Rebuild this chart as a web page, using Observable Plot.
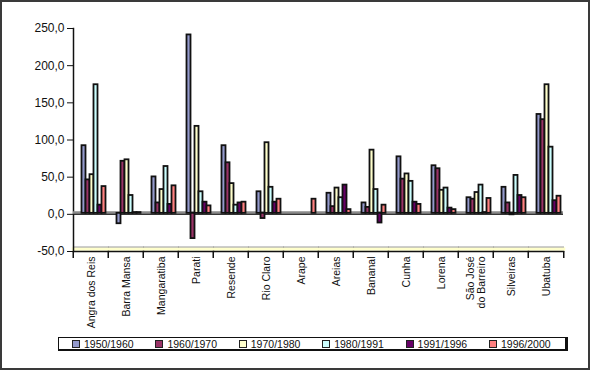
<!DOCTYPE html>
<html>
<head>
<meta charset="utf-8">
<script src="https://cdn.jsdelivr.net/npm/d3@7"></script>
<script src="https://cdn.jsdelivr.net/npm/@observablehq/plot@0.6"></script>
<style>
  body { margin: 0; background: #fff; font-family: "Liberation Sans", Arial, sans-serif; }
  #wrap { position: relative; width: 590px; height: 370px; overflow: hidden; }
  #chart { position: absolute; left: 0; top: 0; }
  #border { position: absolute; left: 0; top: 0; width: 590px; height: 370px; box-sizing: border-box;
            border: 2px solid #3a3a3a; pointer-events: none; }
  #legend { position: absolute; left: 58px; top: 337px; width: 510px; height: 14px; box-sizing: border-box;
            border: 1.5px solid #111; border-right-width: 3px; border-bottom-width: 2.5px;
            display: flex; align-items: center; font-size: 10.5px; color: #111; }
  #legend .item { width: 83.4px; display: flex; align-items: center; padding-left: 13px; box-sizing: border-box; white-space: nowrap; }
  #legend .sw { width: 6px; height: 6px; border: 1px solid #222; margin-right: 4px; flex: none; }
</style>
</head>
<body>
<div id="wrap">
  <div id="chart"></div>
  <div id="legend"></div>
  <div id="border"></div>
</div>
<script>
const categories = ["Angra dos Reis", "Barra Mansa", "Mangaratiba", "Parati", "Resende", "Rio Claro", "Arape",
  "Areias", "Bananal", "Cunha", "Lorena", "São José do Barreiro", "Silveiras", "Ubatuba"];
const series = ["1950/1960", "1960/1970", "1970/1980", "1980/1991", "1991/1996", "1996/2000"];
const colors = ["#9399cc", "#993366", "#ffffcc", "#ccffff", "#660066", "#ff8080"];

const v1950_1960 = [91, -14, 49, 240, 91, 29, null, 27, 14, 76, 64, 21, 35, 133];
const v1960_1970 = [45, 70, 14, -34, 68, -7, null, 9, 8, 46, 60, 19, 14, 126];
const v1970_1980 = [52, 72, 32, 117, 40, 95, null, 34, 85, 53, 31, 28, -2, 173];
const v1980_1991 = [173, 24, 63, 29, 11, 35, null, 21, 32, 43, 34, 38, 51, 89];
const v1991_1996 = [11, 1, 12, 15, 14, 15, null, 38, -13, 15, 7, 1, 24, 17];
const v1996_2000 = [36, 1, 37, 10, 15, 19, 19, 5, 11, 12, 5, 20, 21, 23];
const yTicks = [-50, 0, 50, 100, 150, 200, 250];

const seriesValues = [v1950_1960, v1960_1970, v1970_1980, v1980_1991, v1991_1996, v1996_2000];
const data = categories.flatMap((c, i) =>
  series.map((s, j) => ({category: c, series: s, value: seriesValues[j][i]}))
).filter(d => d.value !== null);

const fmt = d => d.toFixed(1).replace(".", ",");
const labelFmt = d => d === "São José do Barreiro" ? "São José\ndo Barreiro" : d;

const chart = Plot.plot({
  width: 590,
  height: 335,
  marginLeft: 69,
  marginRight: 24,
  marginTop: 28,
  marginBottom: 84,
  style: {fontFamily: "'Liberation Sans', Arial, sans-serif", background: "transparent", color: "#111"},
  fx: {domain: categories, padding: 0, label: null, axis: null},
  x: {domain: series, paddingInner: 0, paddingOuter: 0.62, axis: null},
  y: {domain: [-50, 250], label: null},
  color: {domain: series, range: colors},
  marks: [
    Plot.frame({anchor: "bottom", stroke: "#ffffcc", strokeWidth: 3.5, dy: -2.5}),
    Plot.frame({anchor: "bottom", stroke: "#9a9a9a", strokeWidth: 1, dy: -4.5}),
    Plot.frame({anchor: "bottom", stroke: "#111", strokeWidth: 1.5}),
    Plot.frame({anchor: "left", stroke: "#111", strokeWidth: 1.5, facetAnchor: "left"}),
    Plot.ruleY([0], {stroke: "#8a8a8a", strokeWidth: 3, dy: -1.5}),
    Plot.ruleY([0], {stroke: "#111", strokeWidth: 1}),
    Plot.barY(data, {fx: "category", x: "series", y: "value", fill: "series",
      stroke: "#111", strokeWidth: 1.8, dx: 2.5, dy: -1}),
    Plot.axisY({ticks: yTicks, tickFormat: fmt, tickSize: 6, tickPadding: 3, fontSize: 12, stroke: "#111"}),
    Plot.axisFx({anchor: "bottom", tickSize: 7, tickFormat: () => "", dx: -17.75, stroke: "#111", strokeWidth: 1.5}),
    Plot.axisFx({anchor: "bottom", ticks: ["Ubatuba"], tickSize: 7, tickFormat: () => "", dx: 17.75, stroke: "#111", strokeWidth: 1.5}),
    Plot.axisFx({anchor: "bottom", tickSize: 0, tickPadding: 5, tickRotate: -90, tickFormat: labelFmt, fontSize: 10.5, lineHeight: 1.05, label: null})
  ]
});
document.getElementById("chart").appendChild(chart);

const legend = document.getElementById("legend");
series.forEach((s, i) => {
  const item = document.createElement("div");
  item.className = "item";
  const sw = document.createElement("span");
  sw.className = "sw";
  sw.style.background = colors[i];
  item.appendChild(sw);
  item.appendChild(document.createTextNode(s));
  legend.appendChild(item);
});
</script>
</body>
</html>
